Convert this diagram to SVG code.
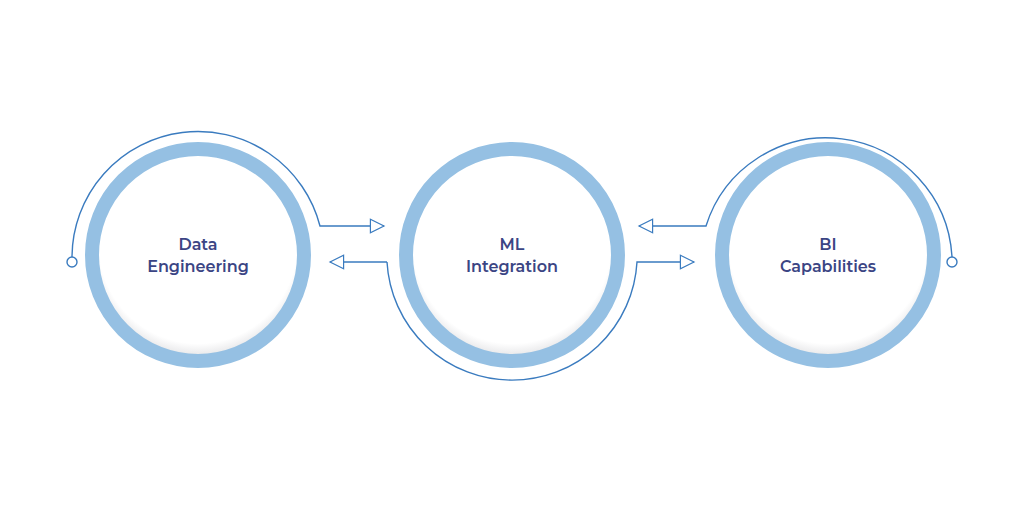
<svg xmlns="http://www.w3.org/2000/svg" width="1024" height="512" viewBox="0 0 1024 512">
<defs>
<radialGradient id="g" cx="0.5" cy="0.45" r="0.55">
<stop offset="0.85" stop-color="#ffffff"/>
<stop offset="0.97" stop-color="#e4e4e6"/>
<stop offset="1" stop-color="#b8b8bc"/>
</radialGradient>
<marker id="ah" viewBox="0 0 20 20" refX="18" refY="10" markerWidth="17" markerHeight="17" markerUnits="userSpaceOnUse" orient="auto">
<path d="M2,2 L18,10 L2,18 Z" fill="#fff" stroke="#3a7bbf" stroke-width="1.4"/>
</marker>
<style>
.ring{fill:url(#g);stroke:#95c0e3;stroke-width:14}
.ln{fill:none;stroke:#3a7bbf;stroke-width:1.4}
.t{font-family:Montserrat,"Noto Sans",sans-serif;font-weight:600;font-size:16px;fill:#3b4584;text-anchor:middle}
</style>
</defs>
<rect width="1024" height="512" fill="#fff"/>
<g id="connectors">
<path class="ln" d="M72,257 A126,126 0 0 1 320,226 L384,226" marker-end="url(#ah)"/>
<path class="ln" d="M387,262 L330,262" marker-end="url(#ah)"/>
<path class="ln" d="M387,262 A125.2,125.2 0 0 0 637,262 L694,262" marker-end="url(#ah)"/>
<path class="ln" d="M952,257 A126,126 0 0 0 706,226 L639,226" marker-end="url(#ah)"/>
<circle cx="72" cy="262" r="5" fill="#fff" stroke="#3a7bbf" stroke-width="1.4"/>
<circle cx="952" cy="262" r="5" fill="#fff" stroke="#3a7bbf" stroke-width="1.4"/>
</g>
<g id="data-engineering">
<circle class="ring" cx="198" cy="255" r="106"/>
<text class="t" x="198" y="250">Data</text>
<text class="t" x="198" y="272">Engineering</text>
</g>
<g id="ml-integration">
<circle class="ring" cx="512" cy="255" r="106"/>
<text class="t" x="512" y="250">ML</text>
<text class="t" x="512" y="272">Integration</text>
</g>
<g id="bi-capabilities">
<circle class="ring" cx="828" cy="255" r="106"/>
<text class="t" x="828" y="250">BI</text>
<text class="t" x="828" y="272">Capabilities</text>
</g>
</svg>
